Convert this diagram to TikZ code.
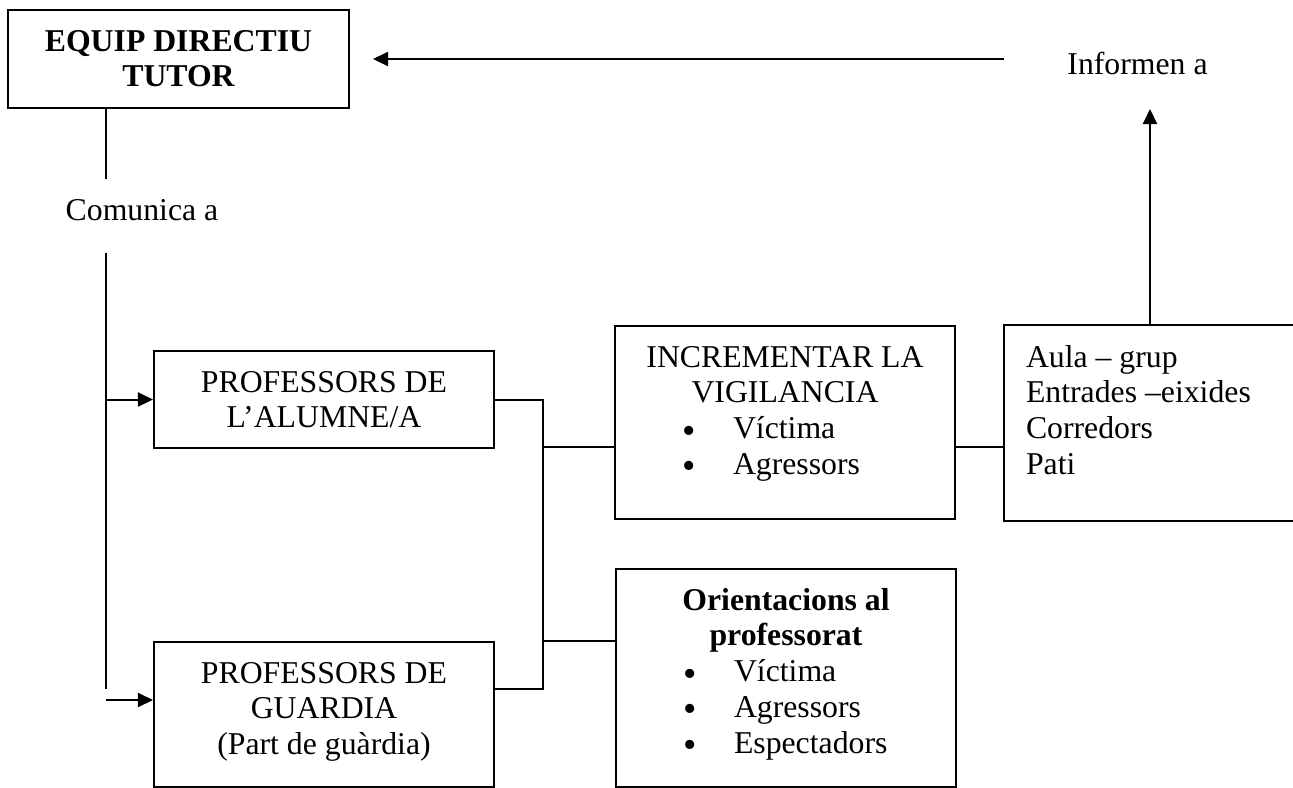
\documentclass[tikz,border=0pt]{standalone}
\usepackage{fontspec}
\setmainfont{Liberation Serif}
\usetikzlibrary{arrows.meta}
\newcommand{\punt}[1]{\makebox[\linewidth][l]{\hspace{23pt}\makebox[20.2pt][l]{\raisebox{-1.8pt}[4pt][0pt]{\scalebox{1.2}{\textbullet}}}#1}}

\begin{document}
\begin{tikzpicture}[x=0.4pt,y=-0.4pt,line width=0.8pt,
  caixa/.style={draw, anchor=north, inner xsep=4pt, inner ysep=8.4pt, text width=128pt, align=flush center, text height=8pt, font=\fontsize{12.7}{14.3}\selectfont},
  fletxa/.style={-{Triangle[length=6pt,width=5.6pt]}},
  rotul/.style={anchor=base, inner sep=0pt, font=\fontsize{12.7}{14.3}\selectfont}]
\useasboundingbox (0,0) rectangle (1293,787);
\node[caixa, text depth=14.4pt] (dir) at (178.5,9) {\bfseries EQUIP DIRECTIU\\TUTOR};
\node[caixa, text depth=14pt] (alumne) at (324,350) {PROFESSORS DE\\L’ALUMNE/A};
\node[caixa, text depth=33.2pt] (guardia) at (324,641) {PROFESSORS DE\\GUARDIA\\(Part de guàrdia)};
\node[caixa, text depth=52.4pt] (vigil) at (785,325) {INCREMENTAR LA\\VIGILANCIA\\\punt{Víctima}\\\punt{Agressors}};
\node[caixa, text depth=62.4pt] (orient) at (786,568) {\textbf{Orientacions al}\\\textbf{professorat}\\\punt{Víctima}\\\punt{Agressors}\\\punt{Espectadors}};
\node[caixa, draw=none, anchor=north west, inner xsep=8.4pt, text width=98.8pt, align=flush left, text depth=52.8pt] (llocs) at (1004,325) {Aula – grup\\Entrades –eixides\\Corredors\\Pati};
\draw (llocs.north east) -- (llocs.north west) -- (llocs.south west) -- (llocs.south east);
\node[rotul] (comunica) at (142,220) {Comunica a};
\node[rotul] (informen) at (1137.5,74) {Informen a};
\coordinate (tall1) at (106,179);
\coordinate (tall2) at (106,253);
\coordinate (tall3) at (106,689);
\coordinate (tall4) at (106,700);
\draw (dir.south -| tall1) -- (tall1);
\draw (tall2) -- (tall3);
\draw[fletxa] (alumne.west -| tall2) -- (alumne.west);
\draw[fletxa] (tall4) -- (tall4 -| guardia.west);
\coordinate (bus1) at (543,447);
\coordinate (bus2) at (543,641);
\coordinate (bus3) at (543,689);
\draw (alumne.east) -| (bus3) -- (bus3 -| guardia.east);
\draw (bus1) -- (bus1 -| vigil.west);
\draw (bus2) -- (bus2 -| orient.west);
\draw (bus1 -| vigil.east) -- (bus1 -| llocs.west);
\coordinate (amunt) at (1150,325);
\draw[fletxa] (amunt) -- (amunt |- dir.south);
\draw[fletxa, shorten >=9.4pt] (dir.east -| llocs.west) -- (dir.east);
\end{tikzpicture}
\end{document}
